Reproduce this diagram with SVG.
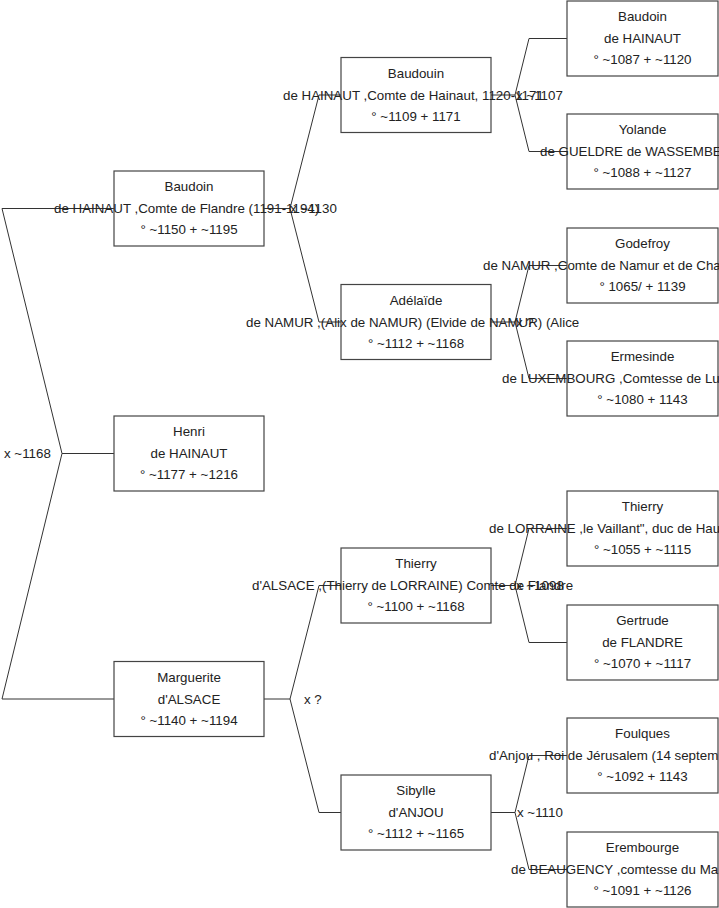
<svg xmlns="http://www.w3.org/2000/svg" width="719" height="908" viewBox="0 0 719 908">
<style>
.box{fill:#fff;stroke:#444;stroke-width:1.2}
.t{font-family:"Liberation Sans",Arial,sans-serif;font-size:13.33px;fill:#222}
.c{text-anchor:middle}
.ln{fill:none;stroke:#333;stroke-width:1}
</style>
<rect width="719" height="908" fill="#fff"/>
<g id="connectors">
<path class="ln" d="M114,453.5 H62 L2,208.5 H114 M62,453.5 L2,699 H114"/>
<path class="ln" d="M264,208.5 H290 L319,95 H341 M290,208.5 L319,322 H341"/>
<path class="ln" d="M264,699 H290 L319,585.5 H341 M290,699 L319,812.5 H341"/>
<path class="ln" d="M491,95 H515 L529,38.5 H567 M515,95 L529,151.5 H567"/>
<path class="ln" d="M491,322 H515 L529,265.5 H567 M515,322 L529,378.5 H567"/>
<path class="ln" d="M491,585.5 H515 L529,528.5 H567 M515,585.5 L529,642.5 H567"/>
<path class="ln" d="M491,812.5 H515 L529,755.5 H567 M515,812.5 L529,869.5 H567"/>
<text class="t" x="4" y="458">x ~1168</text>
<text class="t" x="290" y="213">x ~1130</text>
<text class="t" x="304" y="703.5">x ?</text>
<text class="t" x="516" y="99.5">x ~1107</text>
<text class="t" x="516" y="326.5">x ?</text>
<text class="t" x="516" y="590">x ~1098</text>
<text class="t" x="517" y="817">x ~1110</text>
</g>
<g id="baudoin1">
<rect class="box" x="114" y="171" width="150" height="75"/>
<text class="t c" x="189" y="191">Baudoin</text>
<text class="t" x="54" y="213">de HAINAUT ,Comte de Flandre (1191-1194)</text>
<text class="t c" x="189" y="234">° ~1150 + ~1195</text>
</g>
<g id="henri">
<rect class="box" x="114" y="416" width="150" height="75"/>
<text class="t c" x="189" y="436">Henri</text>
<text class="t c" x="189" y="458">de HAINAUT</text>
<text class="t c" x="189" y="479">° ~1177 + ~1216</text>
</g>
<g id="marguerite">
<rect class="box" x="114" y="661.5" width="150" height="75"/>
<text class="t c" x="189" y="681.5">Marguerite</text>
<text class="t c" x="189" y="703.5">d'ALSACE</text>
<text class="t c" x="189" y="724.5">° ~1140 + ~1194</text>
</g>
<g id="baudouin2">
<rect class="box" x="341" y="57.5" width="150" height="75"/>
<text class="t c" x="416" y="77.5">Baudouin</text>
<text class="t" x="283" y="99.5">de HAINAUT ,Comte de Hainaut, 1120-1171</text>
<text class="t c" x="416" y="120.5">° ~1109 + 1171</text>
</g>
<g id="adelaide">
<rect class="box" x="341" y="284.5" width="150" height="75"/>
<text class="t c" x="416" y="304.5">Adélaïde</text>
<text class="t" x="246" y="326.5">de NAMUR ,(Alix de NAMUR) (Elvide de NAMUR) (Alice</text>
<text class="t c" x="416" y="347.5">° ~1112 + ~1168</text>
</g>
<g id="thierry2">
<rect class="box" x="341" y="548" width="150" height="75"/>
<text class="t c" x="416" y="568">Thierry</text>
<text class="t" x="252" y="590">d'ALSACE ,(Thierry de LORRAINE) Comte de Flandre</text>
<text class="t c" x="416" y="611">° ~1100 + ~1168</text>
</g>
<g id="sibylle">
<rect class="box" x="341" y="775" width="150" height="75"/>
<text class="t c" x="416" y="795">Sibylle</text>
<text class="t c" x="416" y="817">d'ANJOU</text>
<text class="t c" x="416" y="838">° ~1112 + ~1165</text>
</g>
<g id="baudoin3">
<rect class="box" x="567" y="1" width="151" height="75"/>
<text class="t c" x="642.5" y="21">Baudoin</text>
<text class="t c" x="642.5" y="43">de HAINAUT</text>
<text class="t c" x="642.5" y="64">° ~1087 + ~1120</text>
</g>
<g id="yolande">
<rect class="box" x="567" y="114" width="151" height="75"/>
<text class="t c" x="642.5" y="134">Yolande</text>
<text class="t" x="540" y="156">de GUELDRE de WASSEMBE</text>
<text class="t c" x="642.5" y="177">° ~1088 + ~1127</text>
</g>
<g id="godefroy">
<rect class="box" x="567" y="228" width="151" height="75"/>
<text class="t c" x="642.5" y="248">Godefroy</text>
<text class="t" x="483" y="270">de NAMUR ,Comte de Namur et de Cha</text>
<text class="t c" x="642.5" y="291">° 1065/ + 1139</text>
</g>
<g id="ermesinde">
<rect class="box" x="567" y="341" width="151" height="75"/>
<text class="t c" x="642.5" y="361">Ermesinde</text>
<text class="t" x="502" y="383">de LUXEMBOURG ,Comtesse de Lu</text>
<text class="t c" x="642.5" y="404">° ~1080 + 1143</text>
</g>
<g id="thierry3">
<rect class="box" x="567" y="491" width="151" height="75"/>
<text class="t c" x="642.5" y="511">Thierry</text>
<text class="t" x="489" y="533">de LORRAINE ,le Vaillant", duc de Hau</text>
<text class="t c" x="642.5" y="554">° ~1055 + ~1115</text>
</g>
<g id="gertrude">
<rect class="box" x="567" y="605" width="151" height="75"/>
<text class="t c" x="642.5" y="625">Gertrude</text>
<text class="t c" x="642.5" y="647">de FLANDRE</text>
<text class="t c" x="642.5" y="668">° ~1070 + ~1117</text>
</g>
<g id="foulques">
<rect class="box" x="567" y="718" width="151" height="75"/>
<text class="t c" x="642.5" y="738">Foulques</text>
<text class="t" x="489" y="760">d'Anjou , Roi de Jérusalem (14 septem</text>
<text class="t c" x="642.5" y="781">° ~1092 + 1143</text>
</g>
<g id="erembourge">
<rect class="box" x="567" y="832" width="151" height="75"/>
<text class="t c" x="642.5" y="852">Erembourge</text>
<text class="t" x="511" y="874">de BEAUGENCY ,comtesse du Ma</text>
<text class="t c" x="642.5" y="895">° ~1091 + ~1126</text>
</g>
</svg>
